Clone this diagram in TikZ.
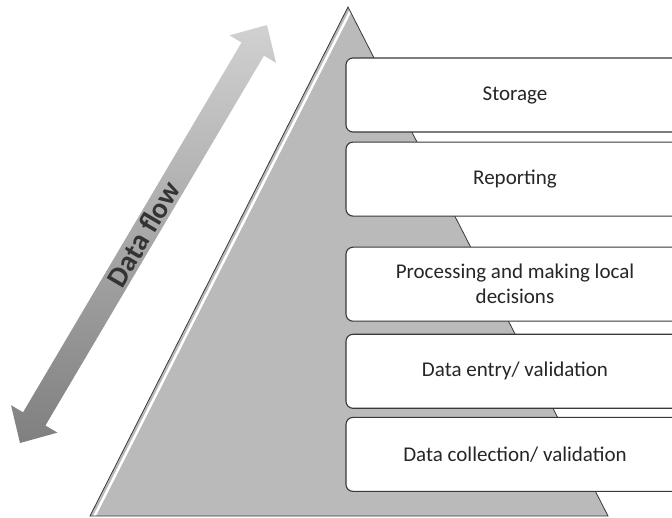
\documentclass[tikz,border=0pt]{standalone}
\usepackage{fontspec}
\setmainfont{Carlito}
\usepackage{tikz}
\usetikzlibrary{calc}
\usetikzlibrary{positioning,shapes}
\definecolor{pyrgray}{rgb}{0.73,0.73,0.73}
\definecolor{edgegray}{rgb}{0.22,0.22,0.22}
\tikzset{layer/.style={draw=edgegray,line width=1.1pt,rounded corners=7pt,fill=white,
    minimum width=338pt,minimum height=74pt,inner sep=2pt,align=center,
    font=\fontsize{21}{25}\selectfont,text=black!85}}

\begin{document}
\begin{tikzpicture}[x=1pt,y=-1pt]
    \useasboundingbox (0,0) rectangle (672,518);
    \clip (0,0) rectangle (672,518);
    % pyramid
    \coordinate (apex) at (348,7);
    \coordinate (baseL) at (90,516);
    \coordinate (baseR) at (608,516);
    \fill[pyrgray] (apex) -- (baseL) -- (baseR) -- cycle;
    \draw[white,line width=2.5pt] ($(apex)!4pt!90:(baseL)$) -- ($(baseL)!4pt!-90:(apex)$);
    \draw[edgegray,line width=0.8pt] (apex) -- (baseL) -- (baseR) -- cycle;
    % layers
    \node[layer] (storage) at (515,95) {Storage};
    \node[layer,below=9pt of storage] (reporting) {Reporting};
    \node[layer,below=30pt of reporting] (processing) {Processing and making local\\decisions};
    \node[layer,below=12pt of processing] (entry) {Data entry/ validation};
    \node[layer,below=8pt of entry] (collection) {Data collection/ validation};
    % data flow arrow
    \coordinate (flowlow) at (20,443);
    \coordinate (flowhigh) at (267,25);
    \coordinate (lowneck) at ($(flowlow)!28pt!(flowhigh)$);
    \coordinate (highneck) at ($(flowhigh)!28pt!(flowlow)$);
    \shade[top color=black!18,bottom color=black!50]
      (flowlow) -- ($(lowneck)!27pt!90:(flowhigh)$) -- ($(lowneck)!13pt!90:(flowhigh)$)
      -- ($(highneck)!13pt!-90:(flowlow)$) -- ($(highneck)!27pt!-90:(flowlow)$)
      -- (flowhigh) -- ($(highneck)!27pt!90:(flowlow)$) -- ($(highneck)!13pt!90:(flowlow)$)
      -- ($(lowneck)!13pt!-90:(flowhigh)$) -- ($(lowneck)!27pt!-90:(flowhigh)$) -- cycle;
    \path (flowlow) -- (flowhigh) node[midway,sloped,text=black!80,
      font=\bfseries\fontsize{29}{29}\selectfont] (flowlabel) {Data flow};
\end{tikzpicture}
\end{document}
